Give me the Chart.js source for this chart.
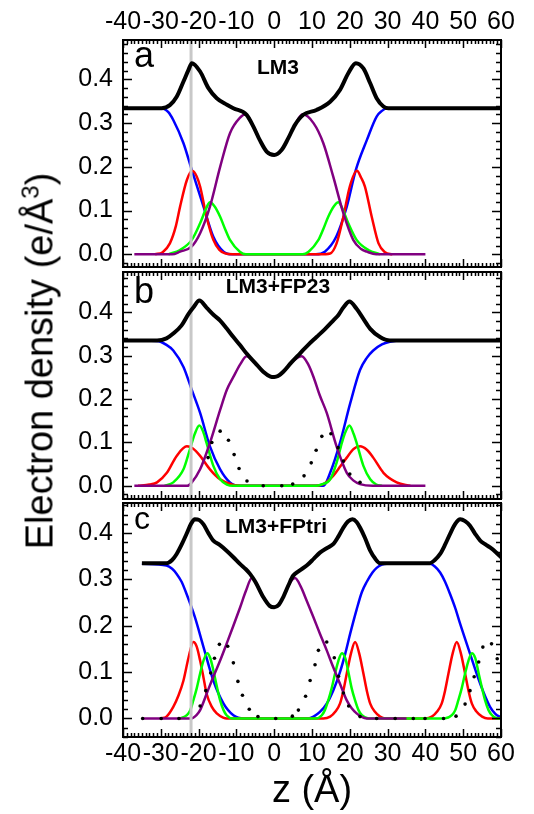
<!DOCTYPE html>
<html>
<head>
<meta charset="utf-8">
<script src="https://cdn.jsdelivr.net/npm/chart.js@4.4.0/dist/chart.umd.min.js"></script>
<style>
  body { margin: 0; background: #fff; width: 534px; height: 814px; position: relative; overflow: hidden;
         font-family: "Liberation Sans", Arial, sans-serif; }
  canvas { position: absolute; left: 0; }
  #ytitle { position: absolute; left: 40px; top: 361px; transform: translate(-50%, -50%) rotate(-90deg);
            font-size: 38px; white-space: nowrap; color: #000; }
  #ytitle sup { font-size: 24px; line-height: 0; }
</style>
</head>
<body>
<canvas id="pa" width="534" height="270" style="top:0px"></canvas>
<canvas id="pb" width="534" height="235" style="top:268px"></canvas>
<canvas id="pc" width="534" height="315" style="top:499px"></canvas>
<div id="ytitle">Electron density (e/Å<sup>3</sup>)</div>
<script>
// axis ticks
const xTicks = [-40, -30, -20, -10, 0, 10, 20, 30, 40, 50, 60];
const yTicks = [0, 0.1, 0.2, 0.3, 0.4];
const panelLetters = ['a', 'b', 'c'];
const panelTitles = ['LM3', 'LM3+FP23', 'LM3+FPtri'];
const grayZ = -22;

// panel a (LM3): [z, density]
const aTotal = [[-40,0.334],[-29.8,0.334],[-27.6,0.341],[-25.8,0.36],[-24,0.395],[-22.7,0.421],[-21.8,0.437],[-19.6,0.418],[-17.4,0.38],[-15.2,0.357],[-12.5,0.342],[-10.8,0.334],[-7.3,0.319],[-5.5,0.292],[-3.8,0.261],[-2,0.235],[0,0.227],[2,0.239],[3.7,0.265],[5.5,0.296],[7.7,0.319],[11.2,0.33],[14.8,0.349],[17.4,0.376],[19.6,0.414],[21.6,0.437],[23.6,0.425],[25.4,0.391],[27.1,0.357],[28.9,0.338],[30.2,0.334],[60,0.334]];
const aBlue = [[-40,0.334],[-29.8,0.334],[-28,0.325],[-26.7,0.307],[-24,0.254],[-21.8,0.193],[-18.7,0.109],[-16.1,0.04],[-13.4,0.006],[-11,0],[11,0],[13.4,0.006],[16.4,0.04],[19.2,0.109],[21.6,0.193],[24.5,0.261],[27.1,0.315],[28.5,0.328],[29.8,0.334],[60,0.334]];
const aPurple = [[-37,0],[-27,0],[-24.9,0.006],[-21.8,0.018],[-19.6,0.048],[-17,0.109],[-14.3,0.2],[-11.7,0.277],[-9.1,0.312],[-7.5,0.32],[-5.5,0.292],[-3.8,0.261],[-2,0.235],[0,0.227],[2,0.239],[3.7,0.265],[5.5,0.296],[7.5,0.32],[10.4,0.3],[13,0.254],[15.6,0.178],[18.3,0.094],[20.9,0.033],[23,0.012],[24.5,0.006],[27,0],[40,0]];
const aRed = [[-31.5,0],[-29.5,0.005],[-27.6,0.025],[-26,0.065],[-24.9,0.109],[-23.1,0.17],[-21.7,0.191],[-20.5,0.178],[-19.6,0.155],[-17.9,0.086],[-16.1,0.033],[-14.5,0.01],[-13,0.002],[-11,0],[12,0],[14.8,0.002],[16.5,0.025],[18.3,0.086],[20,0.155],[21.9,0.191],[23,0.175],[24,0.155],[25.8,0.086],[27.6,0.025],[29.3,0.005],[31.3,0]];
const aGreen = [[-28,0],[-24.9,0.01],[-21.8,0.033],[-19.6,0.071],[-18,0.105],[-17,0.119],[-15.8,0.11],[-14.3,0.086],[-13,0.058],[-11.7,0.033],[-9.1,0.006],[-7.5,0],[7.5,0],[9.1,0.006],[11.7,0.033],[13,0.058],[14.3,0.086],[15.8,0.11],[17,0.119],[18,0.105],[19.6,0.071],[21.8,0.033],[24.9,0.01],[28,0]];

// panel b (LM3+FP23)
const bTotal = [[-40,0.335],[-31,0.335],[-28.5,0.34],[-26.7,0.351],[-24.5,0.37],[-22.7,0.396],[-21.4,0.411],[-19.8,0.427],[-17.9,0.411],[-16,0.394],[-14.3,0.381],[-12.5,0.362],[-10.8,0.343],[-9,0.324],[-7.3,0.305],[-5,0.283],[-2.9,0.263],[-1,0.252],[0,0.251],[1,0.253],[2.4,0.263],[4.5,0.284],[6.8,0.305],[9,0.325],[11.2,0.343],[13.5,0.362],[15.6,0.381],[17,0.394],[18.3,0.411],[19.9,0.425],[21.8,0.408],[23.6,0.385],[25.4,0.362],[28,0.343],[30.6,0.335],[60,0.335]];
const bBlue = [[-40,0.335],[-31,0.334],[-28.5,0.325],[-26.7,0.312],[-24,0.274],[-21.8,0.221],[-19.6,0.168],[-17,0.091],[-14.3,0.038],[-11.7,0.008],[-9,0],[13,0],[14.8,0.03],[17.4,0.099],[20.1,0.19],[22.7,0.267],[24.5,0.295],[26.2,0.312],[28.5,0.326],[30.6,0.332],[34,0.335],[60,0.335]];
const bPurple = [[-37,0],[-23,0],[-21.8,0.008],[-19.6,0.038],[-17,0.099],[-14.3,0.175],[-12.5,0.222],[-10.8,0.251],[-9,0.28],[-7.3,0.299],[-5,0.283],[-2.9,0.263],[-1,0.252],[0,0.251],[1,0.253],[2.4,0.263],[4.5,0.284],[7.3,0.299],[9,0.28],[10.4,0.251],[12,0.21],[13.9,0.168],[16.5,0.091],[19.2,0.03],[21,0.012],[22.7,0.004],[26,0],[40,0]];
const bRed = [[-36,0],[-33,0.003],[-31,0.008],[-28.4,0.03],[-25.8,0.069],[-23.1,0.091],[-21.5,0.086],[-19.6,0.069],[-17,0.038],[-14.3,0.015],[-10.8,0.002],[-8,0],[10,0],[13,0.004],[15.6,0.023],[17.5,0.045],[19.2,0.065],[21,0.085],[22.7,0.091],[24.5,0.083],[26.2,0.065],[28.9,0.03],[32.4,0.008],[36,0]];
const bGreen = [[-29,0],[-26.7,0.008],[-24,0.038],[-22.3,0.084],[-21,0.12],[-19.8,0.139],[-18.8,0.125],[-17.9,0.099],[-16.1,0.046],[-14.3,0.015],[-12.5,0.003],[-11,0],[11,0],[12.5,0.003],[14.8,0.015],[16.5,0.053],[17.9,0.099],[18.9,0.125],[19.9,0.139],[21,0.12],[21.8,0.099],[23.6,0.046],[25.4,0.015],[27,0.003],[28.5,0]];
const bDots = [[-17.5,0.065],[-16.5,0.1],[-14.3,0.126],[-12.1,0.105],[-10.6,0.072],[-9.3,0.04],[-7.2,0.011],[-2.9,0],[2,0],[4.9,0.004],[7.9,0.023],[9.8,0.053],[11.1,0.082],[12.6,0.114],[15,0.12],[16.9,0.088],[18.3,0.057],[20,0.027],[22.7,0.008]];

// panel c (LM3+FPtri)
const cTotal = [[-35,0.335],[-28.5,0.335],[-27,0.342],[-25.8,0.355],[-24.5,0.375],[-23.2,0.398],[-22,0.42],[-21,0.43],[-19.8,0.428],[-18.7,0.419],[-17.4,0.4],[-16.1,0.384],[-14.5,0.375],[-12.6,0.362],[-10.8,0.348],[-9,0.333],[-7.5,0.322],[-6.4,0.312],[-5,0.295],[-2.9,0.262],[-1.2,0.243],[0,0.24],[1.2,0.245],[2.4,0.262],[3.8,0.288],[5,0.308],[6.5,0.318],[8.6,0.33],[10.5,0.345],[12.1,0.358],[14,0.368],[15.6,0.376],[17,0.393],[18.3,0.412],[19.5,0.425],[20.7,0.43],[21.8,0.424],[22.7,0.412],[24,0.39],[25.4,0.362],[26.7,0.345],[28,0.335],[41.2,0.335],[42.5,0.342],[43.9,0.355],[45.2,0.375],[46.5,0.398],[47.9,0.42],[49.2,0.43],[50.5,0.426],[51.8,0.416],[53.2,0.398],[54.5,0.384],[55.8,0.376],[57.1,0.369],[58.5,0.36],[60,0.348]];
const cBlue = [[-35,0.334],[-28.5,0.33],[-27,0.323],[-25.8,0.312],[-24.5,0.295],[-23.2,0.269],[-21,0.219],[-18.7,0.154],[-16.1,0.082],[-13.4,0.032],[-10.8,0.007],[-8,0],[9,0],[10.4,0.004],[12.1,0.014],[13.9,0.032],[15.6,0.06],[17.4,0.1],[18.8,0.14],[20.1,0.183],[21.8,0.235],[23.2,0.273],[24.5,0.295],[26,0.315],[27.1,0.325],[28.5,0.332],[29.8,0.334],[41.2,0.334],[42.5,0.328],[43.9,0.315],[45.2,0.295],[46.5,0.269],[47.9,0.238],[49.2,0.204],[51.8,0.14],[54.5,0.075],[57.1,0.025],[58.5,0.01],[60,0.002]];
const cPurple = [[-35,0],[-22,0],[-20.5,0.008],[-19.6,0.018],[-17.8,0.055],[-16.1,0.09],[-14.3,0.125],[-12.6,0.161],[-10.8,0.2],[-9,0.24],[-7.5,0.275],[-5.9,0.303],[-5,0.295],[-2.9,0.262],[-1.2,0.243],[0,0.24],[1.2,0.245],[2.4,0.262],[3.8,0.288],[5.5,0.303],[7,0.285],[8.6,0.254],[10.3,0.22],[12.1,0.183],[13.9,0.147],[15.6,0.111],[17.4,0.075],[19.2,0.039],[20.5,0.022],[21.8,0.011],[23,0.004],[24.5,0],[35,0]];
const cRed = [[-30,0],[-28.5,0.004],[-26.7,0.025],[-25.3,0.05],[-24,0.082],[-22.7,0.13],[-21.4,0.165],[-20.5,0.155],[-19.6,0.125],[-18.7,0.088],[-17.9,0.054],[-16.5,0.025],[-15.2,0.011],[-13.5,0.002],[-12.6,0],[13,0],[14.8,0.004],[16.2,0.015],[17.4,0.032],[18.3,0.06],[19.2,0.097],[20.3,0.14],[21.4,0.165],[22.5,0.14],[23.6,0.097],[24.5,0.06],[25.4,0.032],[26.6,0.015],[28,0.004],[29.5,0],[40,0],[41.7,0.004],[43.1,0.015],[44.3,0.032],[45.2,0.06],[46.1,0.097],[47.2,0.14],[48.3,0.165],[49.4,0.14],[50.5,0.097],[51.4,0.06],[52.3,0.032],[53.5,0.015],[55,0.004],[56.5,0],[60,0]];
const cGreen = [[-25,0],[-23.1,0.007],[-22.2,0.018],[-21.4,0.039],[-20.5,0.065],[-19.6,0.097],[-18.7,0.125],[-17.7,0.141],[-16.9,0.13],[-16.1,0.104],[-15.2,0.07],[-14.3,0.039],[-13.4,0.018],[-12.6,0.007],[-11,0],[11,0],[12.6,0.007],[13.4,0.018],[14.3,0.039],[15.2,0.065],[16.1,0.097],[17,0.125],[17.9,0.141],[18.8,0.13],[19.7,0.097],[20.5,0.065],[21.4,0.039],[22.3,0.018],[23.2,0.007],[25,0],[45,0],[47,0.007],[47.9,0.018],[48.7,0.039],[49.6,0.065],[50.5,0.097],[51.4,0.125],[52.3,0.141],[53.2,0.13],[54.1,0.097],[55,0.065],[55.8,0.039],[56.7,0.018],[57.6,0.007],[59,0],[60,0]];
const cDots = [[-34.8,0],[-29.9,0],[-25.2,0],[-19.6,0.027],[-18.1,0.06],[-16.8,0.098],[-15.8,0.13],[-14.5,0.16],[-12.3,0.156],[-10.8,0.12],[-9.6,0.08],[-8.4,0.05],[-6.6,0.02],[-4.3,0.004],[0.4,0],[4.8,0.005],[6.4,0.018],[8.3,0.048],[9.5,0.082],[10.8,0.116],[11.7,0.147],[13.9,0.165],[15.9,0.131],[17,0.091],[18.3,0.055],[19.7,0.027],[22.7,0.004],[27.1,0],[32,0],[36.8,0],[39.9,0],[44.8,0],[48.1,0.005],[50.5,0.031],[51.8,0.06],[52.9,0.09],[54.1,0.122],[55.2,0.154],[57.5,0.161],[59,0.129]];

Chart.defaults.font.family = '"Liberation Sans", Arial, sans-serif';
Chart.defaults.color = '#000';

const pts = arr => arr.map(p => ({ x: p[0], y: p[1] }));

// frame with inward minor/major ticks, panel letter and title
const frame = {
  id: 'frame',
  afterDraw(chart, args, o) {
    const { ctx, chartArea: a, scales: { x, y } } = chart;
    ctx.save();
    ctx.strokeStyle = '#000';
    ctx.lineWidth = 1.5;
    ctx.beginPath();
    for (let v = -40; v <= 60; v++) {
      const px = Math.round(x.getPixelForValue(v)) + 0.5;
      const len = v % 10 === 0 ? 8 : 4;
      ctx.moveTo(px, a.top); ctx.lineTo(px, a.top + len);
      ctx.moveTo(px, a.bottom); ctx.lineTo(px, a.bottom - len);
    }
    for (let k = Math.ceil(y.min / 0.02 - 1e-6); k * 0.02 <= y.max + 1e-6; k++) {
      const py = Math.round(y.getPixelForValue(k * 0.02)) + 0.5;
      const len = k % 5 === 0 ? 9 : 5;
      ctx.moveTo(a.left, py); ctx.lineTo(a.left + len, py);
      ctx.moveTo(a.right, py); ctx.lineTo(a.right - len, py);
    }
    ctx.stroke();
    ctx.lineWidth = 2;
    ctx.strokeRect(a.left, a.top, a.width, a.height);
    ctx.fillStyle = '#000';
    ctx.textBaseline = 'alphabetic';
    ctx.textAlign = 'left';
    ctx.font = o.letterSize + 'px "Liberation Sans", Arial, sans-serif';
    ctx.fillText(o.letter, a.left + 11, a.top + o.letterDy);
    ctx.textAlign = 'center';
    ctx.font = 'bold 21px "Liberation Sans", Arial, sans-serif';
    ctx.fillText(o.title, o.titleX, a.top + o.titleDy);
    ctx.restore();
  }
};

function makePanel(id, i, data, yMin, yMax, xPos, padding, xHeight) {
  const line = (d, color, w) => ({
    data: pts(d), borderColor: color, borderWidth: w, showLine: true, pointRadius: 0,
    cubicInterpolationMode: 'monotone', fill: false
  });
  const datasets = [
    line(data.total, '#000', 4),
    line([[grayZ, yMin], [grayZ, yMax]], '#c8c8c8', 3)
  ];
  if (data.dots) {
    datasets.push({ data: pts(data.dots), showLine: false, pointRadius: 1.8, pointBackgroundColor: '#000', pointBorderWidth: 0 });
  }
  datasets.push(line(data.purple, '#800080', 2.5), line(data.green, '#00ff00', 2.5),
                line(data.red, '#ff0000', 2.5), line(data.blue, '#0000ff', 2.5));

  return new Chart(document.getElementById(id), {
    type: 'scatter',
    data: { datasets },
    options: {
      responsive: false,
      animation: false,
      events: [],
      layout: { padding },
      scales: {
        x: {
          type: 'linear', min: -40, max: 60, position: xPos || 'bottom', display: !!xPos,
          grid: { display: false, drawTicks: false }, border: { display: false },
          afterBuildTicks: s => { s.ticks = xTicks.map(v => ({ value: v })); },
          afterFit: s => { if (xHeight) s.height = xHeight; s.paddingLeft = 0; s.paddingRight = 0; },
          ticks: { autoSkip: false, maxRotation: 0, minRotation: 0, font: { size: 25 },
                   padding: xPos === 'top' ? 3 : 2, callback: v => String(v) },
          title: { display: xPos === 'bottom', text: 'z (Å)', font: { size: 38 }, padding: 0 }
        },
        y: {
          type: 'linear', min: yMin, max: yMax,
          grid: { display: false, drawTicks: false }, border: { display: false },
          afterBuildTicks: s => { s.ticks = yTicks.map(v => ({ value: v })); },
          afterFit: s => { s.width = 123; s.paddingTop = 0; s.paddingBottom = 0; },
          ticks: { font: { size: 25 }, padding: 10, callback: v => v.toFixed(1) }
        }
      },
      plugins: {
        legend: { display: false },
        tooltip: { enabled: false },
        frame: { letter: panelLetters[i], title: panelTitles[i], letterSize: i === 2 ? 32 : 36,
                 letterDy: [27, 31, 26][i], titleX: [278, 278, 276][i], titleDy: [34, 21, 30][i] }
      }
    },
    plugins: [frame]
  });
}

makePanel('pa', 0, { total: aTotal, blue: aBlue, purple: aPurple, red: aRed, green: aGreen },
  -0.029, 0.49, 'top', { top: 0, right: 33, bottom: 3, left: 0 }, 40);
makePanel('pb', 1, { total: bTotal, blue: bBlue, purple: bPurple, red: bRed, green: bGreen, dots: bDots },
  -0.0304, 0.493, null, { top: 3, right: 33, bottom: 3, left: 0 }, 0);
makePanel('pc', 2, { total: cTotal, blue: cBlue, purple: cPurple, red: cRed, green: cGreen, dots: cDots },
  -0.040, 0.465, 'bottom', { top: 3, right: 33, bottom: 0, left: 0 }, 77);
</script>
</body>
</html>
